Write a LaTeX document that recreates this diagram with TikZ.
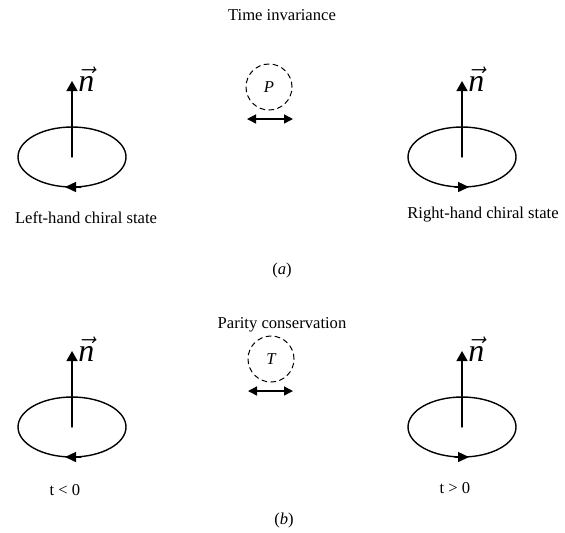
\documentclass[tikz,border=0pt]{standalone}
\usepackage{fontspec}
\setmainfont{Liberation Serif}
\usetikzlibrary{arrows.meta}
\tikzset{
	spin/.style={line width=0.7pt, -{Triangle[length=5pt,width=5.5pt]}},
	flow/.style={line width=0.7pt, -{Triangle[length=5.5pt,width=5pt]}},
	swap/.style={line width=0.7pt, {Triangle[length=4.5pt,width=4.5pt]}-{Triangle[length=4.5pt,width=4.5pt]}},
	oper/.style={circle, draw, dashed, dash pattern=on 2.5pt off 2pt, line width=0.5pt, minimum size=23pt, inner sep=0pt, font=\fontsize{8.3}{10}\selectfont\itshape},
	vecn/.style={right, inner sep=0pt, xshift=3pt, yshift=1pt, font=\fontsize{16}{18}\selectfont}
}
\begin{document}
\begin{tikzpicture}[x=0.5pt, y=-0.5pt, line join=round, line cap=round, font=\fontsize{8.3}{10}\selectfont]
		\useasboundingbox (0,0) rectangle (565,532);
		\path
		(72,157) coordinate (L1)
		(462,157) coordinate (R1)
		(72,427) coordinate (L2)
		(462,427) coordinate (R2);
		% loops with spin vector
		\foreach \c in {L1, R1, L2, R2}
		{
		\draw [line width=0.7pt] (\c) ellipse (54 and 30);
		\path (\c) ++(0,-76) coordinate (\c tip);
		\draw [spin] (\c) -- (\c tip);
		\node [vecn] (\c vec) at (\c tip) {$\vec{\textit{n}}$};
		}
		% sense of rotation
		\foreach \c in {L1, L2}
		\draw [flow] ([shift={(9,30)}]\c) -- ([shift={(-7,30)}]\c);
		\foreach \c in {R1, R2}
		\draw [flow] ([shift={(-7,30)}]\c) -- ([shift={(7,30)}]\c);
		% operators
		\node [oper] (P) at (269,87) {P};
		\node [oper] (T) at (271,359) {T};
		\path (P.center) ++(-22,32) coordinate (P1) (P.center) ++(24,32) coordinate (P2)
		(T.center) ++(-23,32) coordinate (T1) (T.center) ++(22,32) coordinate (T2);
		\draw [swap] (P1) -- (P2);
		\draw [swap] (T1) -- (T2);
		% texts
		\node (ta) at (282,15) {Time invariance};
		\node (la) at (86,218) {Left-hand chiral state};
		\node (ra) at (483,215) {Right-hand chiral state};
		\node (ca) at (282,270) {(\textit{a})};
		\node (tb) at (282,325) {Parity conservation};
		\node (lb) at (65,490) {t < 0};
		\node (rb) at (455,488) {t > 0};
		\node (cb) at (284,520) {(\textit{b})};
	\end{tikzpicture}
\end{document}
